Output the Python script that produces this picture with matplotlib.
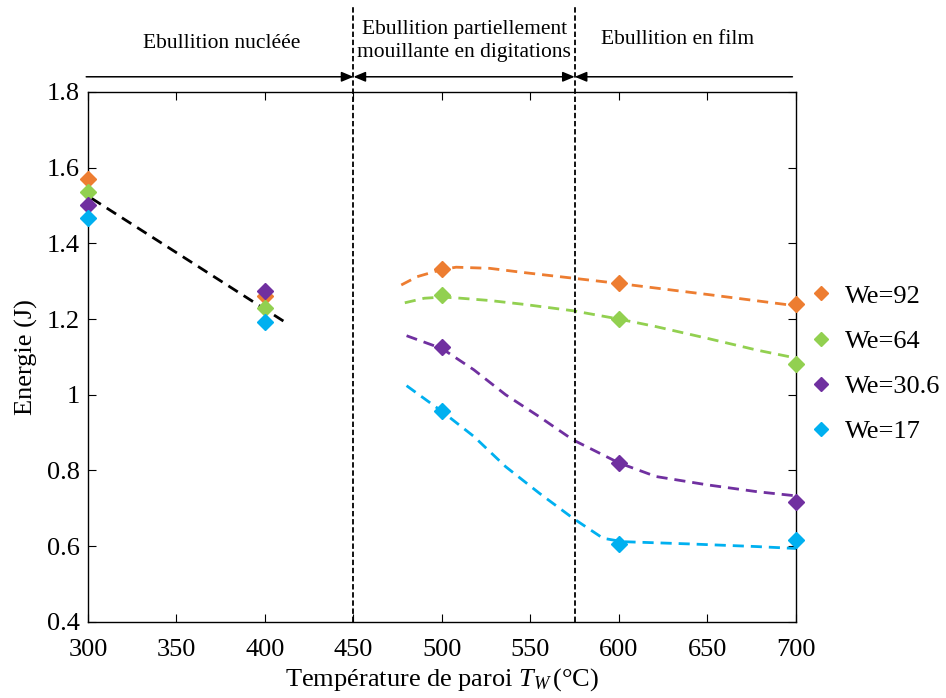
import numpy as np
import matplotlib
matplotlib.use("Agg")
import matplotlib.pyplot as plt
from matplotlib.ticker import FuncFormatter

plt.rcParams['font.family'] = ['Liberation Serif', 'DejaVu Serif']
plt.rcParams['mathtext.fontset'] = 'custom'
plt.rcParams['mathtext.rm'] = 'Liberation Serif'
plt.rcParams['mathtext.it'] = 'Liberation Serif:italic'

# measured points
temps = [300, 400, 500, 600, 700]
e92 = [1.569, 1.262, 1.332, 1.294, 1.240]
e64 = [1.536, 1.230, 1.264, 1.199, 1.082]
e306 = [1.501, 1.275, 1.126, 0.819, 0.717]
e17 = [1.466, 1.193, 0.956, 0.606, 0.616]

# trend line for nucleate boiling
trend_x = [302, 413]
trend_y = [1.519, 1.187]

# fitted curves
fit92_x = [477, 486, 500, 508, 527, 546, 574, 600, 650, 700]
fit92 = [1.290, 1.312, 1.331, 1.337, 1.334, 1.323, 1.308, 1.294, 1.265, 1.235]
fit64_x = [479, 490, 500, 508, 527, 546, 574, 600, 621, 650, 678, 700]
fit64 = [1.243, 1.255, 1.258, 1.256, 1.249, 1.239, 1.222, 1.200, 1.180, 1.149, 1.118, 1.097]
fit306_x = [480, 500, 518, 536, 555, 574, 600, 621, 650, 678, 700]
fit306 = [1.156, 1.122, 1.066, 1.000, 0.942, 0.881, 0.820, 0.784, 0.762, 0.744, 0.733]
fit17_x = [480, 500, 518, 536, 555, 574, 591, 602, 640, 678, 700]
fit17 = [1.024, 0.956, 0.890, 0.810, 0.740, 0.674, 0.621, 0.612, 0.606, 0.599, 0.594]

labels = ["We=92", "We=64", "We=30.6", "We=17"]
colors = ["#ED7D31", "#92D050", "#7030A0", "#00B0F0"]
regime_x = [450, 575]

fig = plt.figure(figsize=(9.46, 6.98), dpi=100)
ax = fig.add_axes([0.093, 0.109, 0.7484, 0.7593])

series = [(e92, fit92_x, fit92), (e64, fit64_x, fit64),
          (e306, fit306_x, fit306), (e17, fit17_x, fit17)]
for (pts, fx, fy), lab, c in zip(series, labels, colors):
    ax.plot(fx, fy, color=c, lw=2.0, dashes=(4, 2.5), zorder=2)
    ax.plot(temps, pts, ls='none', marker='D', ms=8, color=c, label=lab,
            clip_on=False, zorder=3)

ax.plot(trend_x, trend_y, color='black', lw=2.0, dashes=(4, 2.5), zorder=2)

for xv in regime_x:
    ax.plot([xv, xv], [0.4, 2.025], color='black', lw=1.3, dashes=(3, 1.5),
            clip_on=False, zorder=4)

# regime arrows
yarr = 1.84
akw = dict(color='black', lw=1.1, shrinkA=0, shrinkB=0, mutation_scale=12)
ax.annotate('', xy=(450, yarr), xytext=(299, yarr), annotation_clip=False,
            arrowprops=dict(arrowstyle='-|>,head_length=0.6,head_width=0.25', **akw))
ax.annotate('', xy=(575, yarr), xytext=(450, yarr), annotation_clip=False,
            arrowprops=dict(arrowstyle='<|-|>,head_length=0.6,head_width=0.25', **akw))
ax.annotate('', xy=(575, yarr), xytext=(698, yarr), annotation_clip=False,
            arrowprops=dict(arrowstyle='-|>,head_length=0.6,head_width=0.25', **akw))

ax.text(375.5, 1.916, 'Ebullition nucléée', fontsize=15.5, ha='center', va='baseline')
ax.text(512.5, 1.952, 'Ebullition partiellement', fontsize=15.5, ha='center', va='baseline')
ax.text(512.5, 1.891, 'mouillante en digitations', fontsize=15.5, ha='center', va='baseline')
ax.text(633, 1.927, 'Ebullition en film', fontsize=15.5, ha='center', va='baseline')

ax.set_xlim(300, 700)
ax.set_ylim(0.4, 1.8)
ax.set_xticks(np.arange(300, 701, 50))
ax.set_yticks(np.arange(0.4, 1.81, 0.2))
ax.yaxis.set_major_formatter(FuncFormatter(lambda v, p: '%g' % round(v, 2)))
ax.tick_params(direction='in', top=True, right=True, length=6, width=0.8,
               labelsize=19)
ax.tick_params(axis='x', pad=12)
ax.tick_params(axis='y', pad=6)
for s in ax.spines.values():
    s.set_linewidth(1.0)

ax.set_xlabel('Température de paroi $T_W\\,$(°C)', fontsize=19, labelpad=4)
ax.set_ylabel('Energie (J)', fontsize=19, labelpad=6)

ax.legend(loc='upper left', bbox_to_anchor=(0.993, 0.672), frameon=False,
          fontsize=19, handlelength=0.9, handletextpad=0.45, labelspacing=0.82,
          borderaxespad=0.3, markerscale=0.85)

fig.savefig('out.png', dpi=100)
